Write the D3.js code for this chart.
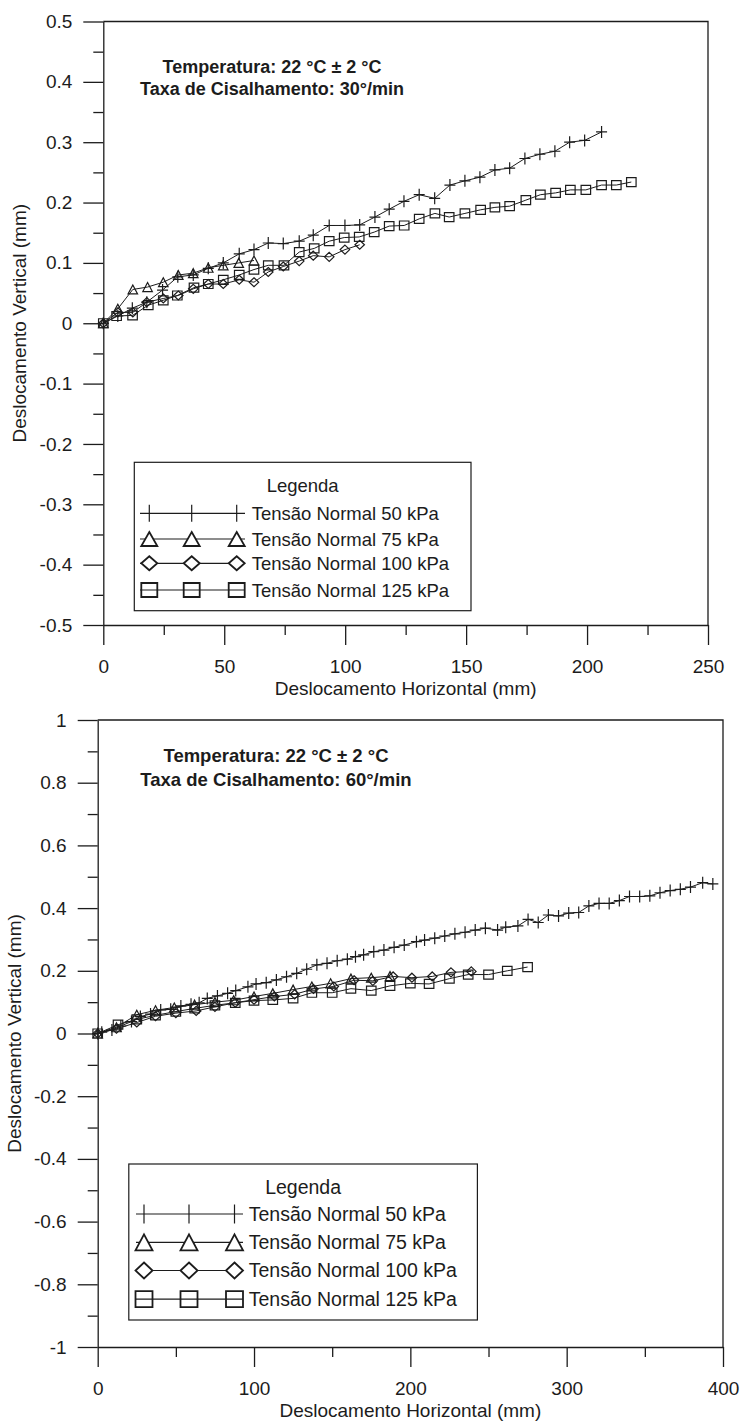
<!DOCTYPE html>
<html><head><meta charset="utf-8">
<script src="https://cdn.jsdelivr.net/npm/d3@7"></script>
<style>
body{margin:0;background:#fff}
svg{display:block}
text{font-family:"Liberation Sans",Arial,sans-serif;fill:#1c1c1c}
</style>
</head><body>
<svg id="c" width="740" height="1421"></svg>
<script>
// ---------------- DATA ----------------
const seriesNames = ["Tensão Normal 50 kPa","Tensão Normal 75 kPa","Tensão Normal 100 kPa","Tensão Normal 125 kPa"];
const seriesMarkers = ["plus","triangle","diamond","square"];

// Chart 1: 30°/min  [horizontal mm, vertical mm]
const top50 = [[0,0],[6,0.012],[12,0.025],[18,0.035],[24.5,0.055],[30.8,0.077],[37.2,0.080],[43.4,0.091],[49.6,0.100],[56.2,0.115],[62.3,0.122],[68.2,0.133],[74.4,0.132],[81,0.136],[86.8,0.146],[93.4,0.162],[99.9,0.162],[106,0.163],[112.3,0.176],[118.2,0.189],[124.3,0.202],[130.6,0.213],[137,0.207],[143.3,0.229],[149.5,0.236],[155.7,0.242],[161.9,0.254],[168,0.257],[174.3,0.273],[180.5,0.280],[186.7,0.285],[192.8,0.300],[199,0.303],[206,0.317]];
const top75 = [[0,0],[6,0.024],[12.2,0.056],[18.3,0.060],[24.8,0.068],[31,0.080],[37.2,0.083],[43.4,0.092],[49.6,0.096],[56,0.100],[62.3,0.104]];
const top100 = [[0,0],[6,0.018],[12.2,0.018],[18,0.035],[24.8,0.041],[31,0.046],[37.2,0.057],[43.4,0.065],[49.6,0.065],[56.2,0.072],[62.3,0.068],[68.2,0.085],[74.4,0.094],[81,0.103],[86.8,0.112],[93.4,0.110],[99.9,0.122],[106,0.130]];
const top125 = [[0,0],[5.5,0.012],[12.1,0.013],[18.6,0.030],[24.8,0.038],[30.6,0.046],[37.5,0.059],[43.4,0.065],[49.6,0.072],[56.2,0.080],[62.3,0.089],[68.2,0.096],[74.7,0.096],[81,0.118],[87.2,0.124],[93.4,0.136],[99.6,0.142],[105.8,0.143],[112,0.151],[118.2,0.161],[124.4,0.162],[130.6,0.173],[137.1,0.182],[143,0.176],[149.5,0.182],[156,0.188],[161.9,0.192],[168,0.194],[174.7,0.204],[180.7,0.213],[187,0.216],[193.1,0.221],[199.5,0.221],[206,0.229],[212.1,0.229],[218.3,0.234]];

const topXTicks = [0,50,100,150,200,250];
const topXLabels = ["0","50","100","150","200","250"];
const topXMinor = [25,75,125,175,225];
const topYTicks = [0.5,0.4,0.3,0.2,0.1,0,-0.1,-0.2,-0.3,-0.4,-0.5];
const topYLabels = ["0.5","0.4","0.3","0.2","0.1","0","-0.1","-0.2","-0.3","-0.4","-0.5"];
const topYMinor = [0.45,0.35,0.25,0.15,0.05,-0.05,-0.15,-0.25,-0.35,-0.45];
const topNotes = ["Temperatura: 22 °C ± 2 °C","Taxa de Cisalhamento: 30°/min"];

// Chart 2: 60°/min
const bot50 = [[0,0],[2.6,0.004],[9.1,0.011],[14.8,0.024],[21.6,0.038],[27.3,0.054],[33.8,0.062],[40.3,0.075],[46.7,0.077],[53.2,0.088],[59.7,0.093],[64.9,0.098],[70.1,0.112],[76.6,0.120],[83.1,0.128],[88.3,0.137],[96.1,0.149],[101.3,0.158],[107.8,0.162],[114.3,0.171],[120.8,0.181],[127.3,0.192],[133.7,0.205],[140.2,0.219],[146.7,0.224],[153.2,0.232],[159.7,0.237],[164.9,0.245],[170.1,0.251],[176.6,0.261],[183.1,0.266],[189.6,0.275],[196.1,0.282],[203.9,0.293],[209.1,0.298],[215.6,0.304],[222,0.311],[228.5,0.318],[235,0.323],[241.5,0.330],[248,0.336],[255.8,0.330],[261,0.339],[268.8,0.343],[275.3,0.364],[281.8,0.354],[288.3,0.378],[294.8,0.375],[301.3,0.384],[307.7,0.386],[314.2,0.407],[320.7,0.415],[327.2,0.415],[333.7,0.424],[340.2,0.437],[346.7,0.437],[353.2,0.439],[359.7,0.449],[366.2,0.456],[372.7,0.460],[379.2,0.467],[387,0.481],[393.5,0.477]];
const bot75 = [[0,0],[12,0.020],[25,0.060],[37,0.074],[49,0.083],[62,0.092],[75,0.100],[87,0.106],[100,0.118],[112,0.128],[125,0.140],[137,0.150],[149,0.160],[162,0.175],[175,0.178],[187,0.183]];
const bot100 = [[0,0],[12,0.015],[25,0.035],[37,0.055],[50,0.065],[63,0.072],[75,0.085],[88,0.098],[100,0.108],[113,0.118],[126,0.125],[138,0.142],[151,0.150],[164,0.170],[176,0.168],[189,0.182],[201,0.178],[214,0.182],[226,0.195],[239,0.198]];
const bot125 = [[0,0],[13,0.028],[25,0.045],[37,0.058],[50,0.070],[62,0.080],[75,0.090],[88,0.098],[100,0.105],[112,0.107],[125,0.112],[137,0.130],[150,0.130],[162,0.143],[175,0.137],[187,0.152],[200,0.160],[212,0.158],[225,0.175],[237,0.188],[250,0.188],[262,0.200],[275,0.212]];

const botXTicks = [0,100,200,300,400];
const botXLabels = ["0","100","200","300","400"];
const botXMinor = [50,150,250,350];
const botYTicks = [1,0.8,0.6,0.4,0.2,0,-0.2,-0.4,-0.6,-0.8,-1];
const botYLabels = ["1","0.8","0.6","0.4","0.2","0","-0.2","-0.4","-0.6","-0.8","-1"];
const botYMinor = [0.9,0.7,0.5,0.3,0.1,-0.1,-0.3,-0.5,-0.7,-0.9];
const botNotes = ["Temperatura: 22 °C ± 2 °C","Taxa de Cisalhamento: 60°/min"];

const xTitle = "Deslocamento Horizontal (mm)";
const yTitle = "Deslocamento Vertical (mm)";
const legendTitle = "Legenda";

// ---------------- DRAWING ----------------
const svg = d3.select("#c");
const INK = "#1c1c1c";

function markerPath(type, w, h) {
  const a = w / 2, b = h / 2;
  switch (type) {
    case "plus": return `M${-a},0H${a}M0,${-b}V${b}`;
    case "triangle": return `M0,${-b}L${a},${b}L${-a},${b}Z`;
    case "diamond": return `M0,${-b}L${a},0L0,${b}L${-a},0Z`;
    default: return `M${-a},${-b}H${a}V${b}H${-a}Z`;
  }
}

function drawChart(cfg) {
  const g = svg.append("g");
  const x = d3.scaleLinear().domain(cfg.xDomain).range([cfg.L, cfg.R]);
  const y = d3.scaleLinear().domain(cfg.yDomain).range([cfg.B, cfg.T]);

  // frame top + right
  g.append("path")
    .attr("d", `M${cfg.L},${cfg.T}H${cfg.R}V${cfg.B}`)
    .attr("fill", "none").attr("stroke", INK).attr("stroke-width", 1.3);

  const styleAxis = (sel) => {
    sel.attr("font-size", cfg.tickFont).attr("font-family", '"Liberation Sans",Arial,sans-serif').attr("color", INK);
    sel.selectAll("path,line").attr("stroke-width", 1.3);
  };

  // y axis
  g.append("g").attr("transform", `translate(${cfg.L},0)`)
    .call(d3.axisLeft(y).tickValues(cfg.yMinor).tickSize(10).tickSizeOuter(0).tickFormat(""))
    .call(styleAxis).call(s => s.select(".domain").remove());
  g.append("g").attr("transform", `translate(${cfg.L},0)`)
    .call(d3.axisLeft(y).tickValues(cfg.yTicks).tickSize(20).tickSizeOuter(0).tickPadding(11)
      .tickFormat(d => cfg.yLabels[cfg.yTicks.indexOf(d)]))
    .call(styleAxis);

  // x axis
  g.append("g").attr("transform", `translate(0,${cfg.B})`)
    .call(d3.axisBottom(x).tickValues(cfg.xMinor).tickSize(10).tickSizeOuter(0).tickFormat(""))
    .call(styleAxis).call(s => s.select(".domain").remove());
  g.append("g").attr("transform", `translate(0,${cfg.B})`)
    .call(d3.axisBottom(x).tickValues(cfg.xTicks).tickSize(20).tickSizeOuter(0).tickPadding(15)
      .tickFormat(d => cfg.xLabels[cfg.xTicks.indexOf(d)]))
    .call(styleAxis);

  // axis titles
  g.append("text").attr("x", (cfg.L + cfg.R) / 2).attr("y", cfg.B + 70)
    .attr("text-anchor", "middle").attr("font-size", cfg.titleFont).text(xTitle);
  g.append("text").attr("transform", `translate(${cfg.yTitleX},${(cfg.T + cfg.B) / 2}) rotate(-90)`)
    .attr("text-anchor", "middle").attr("font-size", cfg.titleFont).text(yTitle);

  // annotations
  cfg.notes.forEach((t, i) => {
    g.append("text").attr("x", cfg.noteX).attr("y", cfg.noteY[i])
      .attr("text-anchor", "middle").attr("font-weight", "bold")
      .attr("font-size", cfg.noteFont).text(t);
  });

  // data
  const line = d3.line().x(d => x(d[0])).y(d => y(d[1]));
  cfg.series.forEach((data, si) => {
    g.append("path").datum(data).attr("d", line)
      .attr("fill", "none").attr("stroke", INK).attr("stroke-width", 1);
    const mw = seriesMarkers[si] === "plus" ? 11 : 9.5;
    const mh = seriesMarkers[si] === "plus" ? 12 : 9;
    g.selectAll(null).data(data).join("path")
      .attr("transform", d => `translate(${x(d[0])},${y(d[1])})`)
      .attr("d", markerPath(seriesMarkers[si], mw, mh))
      .attr("fill", "none").attr("stroke", INK).attr("stroke-width", 1.2);
  });

  // legend
  const lg = cfg.legend;
  g.append("rect").attr("x", lg.x0).attr("y", lg.y0)
    .attr("width", lg.x1 - lg.x0).attr("height", lg.y1 - lg.y0)
    .attr("fill", "#fff").attr("stroke", INK).attr("stroke-width", 1.2);
  g.append("text").attr("x", (lg.x0 + lg.x1) / 2).attr("y", lg.titleY + 6.6)
    .attr("text-anchor", "middle").attr("font-size", lg.font).text(legendTitle);
  seriesNames.forEach((name, i) => {
    const cy = lg.rows[i];
    g.append("line").attr("x1", lg.s0).attr("x2", lg.s1).attr("y1", cy).attr("y2", cy)
      .attr("stroke", INK).attr("stroke-width", 1.2);
    lg.marks.forEach(mx => {
      const t = seriesMarkers[i];
      const w = t === "plus" ? 2 : lg.mw, h = t === "plus" ? lg.mh + 3 : lg.mh;
      g.append("path").attr("transform", `translate(${mx},${cy})`)
        .attr("d", t === "plus" ? `M0,${-h / 2}V${h / 2}` : markerPath(t, w, h))
        .attr("fill", t === "square" ? "none" : "#fff")
        .attr("stroke", INK).attr("stroke-width", t === "plus" ? 1.2 : 1.8);
    });
    g.append("text").attr("x", lg.tx).attr("y", cy + 6.8)
      .attr("font-size", lg.font).text(name);
  });
}

drawChart({
  L: 103.3, R: 708, T: 21.5, B: 625,
  xDomain: [0, 250], yDomain: [-0.5, 0.5],
  xTicks: topXTicks, xLabels: topXLabels, xMinor: topXMinor,
  yTicks: topYTicks, yLabels: topYLabels, yMinor: topYMinor,
  tickFont: 19, titleFont: 19, yTitleX: 26,
  notes: topNotes, noteX: 272, noteY: [73.2, 94.8], noteFont: 18,
  series: [top50, top75, top100, top125],
  legend: { x0: 134.3, x1: 471, y0: 462.3, y1: 610.7, titleY: 485.7,
    rows: [513.3, 539, 563.3, 590], s0: 140, s1: 245, marks: [149.3, 191.7, 236.7],
    tx: 251.7, font: 18.5, mw: 16, mh: 14 }
});

drawChart({
  L: 97.7, R: 723, T: 720, B: 1347,
  xDomain: [0, 400], yDomain: [-1, 1],
  xTicks: botXTicks, xLabels: botXLabels, xMinor: botXMinor,
  yTicks: botYTicks, yLabels: botYLabels, yMinor: botYMinor,
  tickFont: 19, titleFont: 19, yTitleX: 21,
  notes: botNotes, noteX: 276, noteY: [762, 786], noteFont: 18.5,
  series: [bot50, bot75, bot100, bot125],
  legend: { x0: 128.8, x1: 477.4, y0: 1164, y1: 1320, titleY: 1187,
    rows: [1214, 1242.3, 1270.5, 1299.2], s0: 136, s1: 243, marks: [144, 189, 234.5],
    tx: 248.7, font: 19.5, mw: 17, mh: 16 }
});
</script>
</body></html>
